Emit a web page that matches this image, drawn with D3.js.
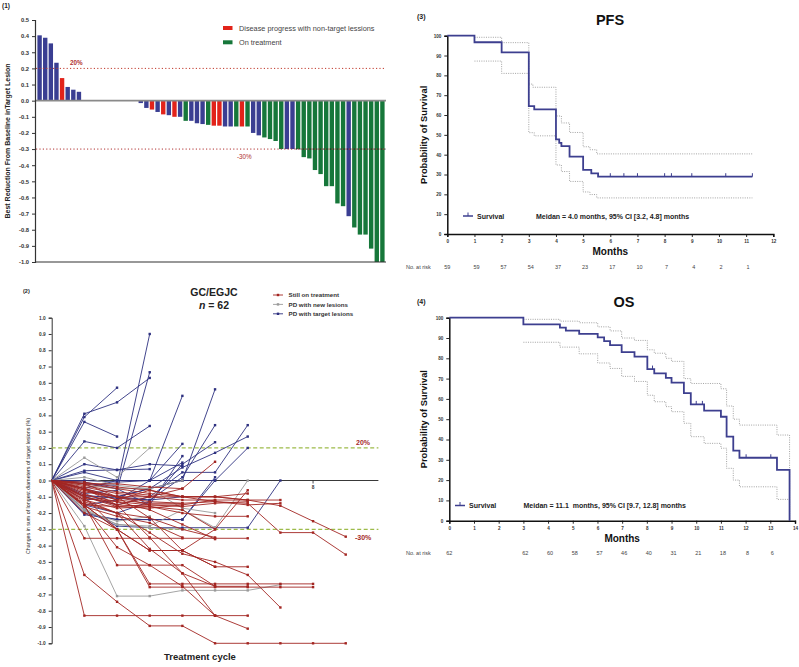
<!DOCTYPE html>
<html>
<head>
<meta charset="utf-8">
<script src="https://cdn.jsdelivr.net/npm/d3@7"></script>
<style>
body { margin: 0; background: #fff; }
svg { font-family: Arial, "Liberation Sans", sans-serif; display: block; }
</style>
</head>
<body>
<svg id="fig" width="799" height="667"></svg>
<script>
// ---------- data: (1) waterfall ----------
var wfValues = [0.405, 0.39, 0.355, 0.235, 0.14, 0.085, 0.068, 0.055,
    0, 0, 0, 0, 0, 0, 0, 0, 0, 0,
    -0.015, -0.045, -0.055, -0.07, -0.085, -0.09, -0.10, -0.10, -0.125, -0.125,
    -0.14, -0.145, -0.15, -0.155, -0.155, -0.16, -0.16, -0.16, -0.16, -0.16,
    -0.20, -0.215, -0.228, -0.238, -0.25, -0.30, -0.30, -0.30, -0.30, -0.35,
    -0.358, -0.43, -0.455, -0.53, -0.53, -0.637, -0.654, -0.716, -0.786, -0.83,
    -0.83, -0.917, -1.0, -1.0];
// T = PD with target lesions, N = progress with non-target lesions, O = on treatment
var wfGroups = ["T", "T", "T", "T", "N", "T", "T", "T",
    "T", "T", "T", "T", "T", "T", "T", "T", "T", "T",
    "T", "T", "N", "T", "N", "T", "N", "T", "O", "T",
    "T", "T", "O", "N", "N", "T", "T", "O", "N", "O",
    "T", "T", "O", "O", "O", "O", "T", "T", "O", "O",
    "O", "O", "O", "O", "O", "O", "O", "T", "O", "O",
    "O", "O", "O", "O"];
var wfTicks = [0.5, 0.4, 0.3, 0.2, 0.1, 0, -0.1, -0.2, -0.3, -0.4, -0.5, -0.6, -0.7, -0.8, -0.9, -1.0];
var wfLegend = ["Disease progress with non-target lessions", "On treatment"];

// ---------- data: (2) spider plot, one array per patient, value per treatment cycle ----------
var spiderTarget = [
    [0, 0.41, 0.48, 0.63],
    [0, 0.39, 0.57],
    [0, 0.36, 0.27],
    [0, 0.24, 0.20, 0.335],
    [0, -0.02, -0.03, 0.90],
    [0, -0.08, -0.06, 0.665],
    [0, 0.10, 0.065, 0.10, 0.09],
    [0, 0.06, 0.065, 0.07],
    [0, 0.05, 0.0, 0.0, 0.52],
    [0, -0.10, -0.10, -0.05, 0.0, 0.56],
    [0, -0.05, -0.10, -0.12, 0.02, 0.34],
    [0, -0.10, -0.15, -0.10, 0.05, 0.05, 0.34],
    [0, -0.15, -0.20, -0.13, 0.10, 0.235],
    [0, -0.12, -0.10, -0.05, 0.08, 0.17, 0.27],
    [0, -0.20, -0.24, -0.24, -0.24, 0.0, 0.20],
    [0, 0.0, -0.01, 0.0, 0.225],
    [0, -0.09, -0.11, -0.12, -0.10],
    [0, -0.18, -0.28, -0.29, -0.29, -0.29, -0.29, 0.0],
    [0, -0.21, -0.24, -0.24, -0.24, 0.02],
    [0, -0.01, -0.05, -0.15, 0.15],
    [0, -0.15, -0.12, 0.0, 0.11],
    [0, -0.05, 0.0, 0.0, 0.0, 0.0]
];
var spiderNew = [
    [0, 0.14, 0.02, 0.20],
    [0, -0.28, -0.71, -0.71, -0.675, -0.675, -0.675, -0.64],
    [0, -0.18, -0.27, -0.28, -0.18, -0.29, 0.0],
    [0, -0.03, -0.05, -0.05, -0.17, -0.20],
    [0, 0.02, -0.03, -0.05, 0.0],
    [0, -0.19, -0.25, -0.22],
    [0, -0.17, -0.27, -0.29, -0.30]
];
var spiderStill = [
    [0, -0.83, -0.83, -0.83, -0.83, -0.83, -0.83],
    [0, -0.58, -0.745, -0.893, -0.893, -1.0, -1.0, -1.0, -1.0, -1.0],
    [0, -0.355, -0.355, -0.355, -0.355, -0.355, -0.355],
    [0, -0.16, -0.41, -0.52, -0.65, -0.83, -0.91],
    [0, -0.15, -0.30, -0.43, -0.43, -0.53, -0.53],
    [0, -0.20, -0.30, -0.635, -0.635, -0.635, -0.635, -0.635, -0.635],
    [0, -0.10, -0.30, -0.655, -0.655, -0.655, -0.655, -0.655, -0.655],
    [0, -0.05, -0.15, -0.35, -0.57, -0.83],
    [0, -0.13, -0.20, -0.32, -0.45, -0.50, -0.58, -0.78],
    [0, -0.02, -0.10, -0.15, -0.15, -0.12, -0.12, -0.155, -0.25, -0.345],
    [0, -0.06, -0.12, -0.14, -0.14, -0.13, -0.14, -0.32, -0.32, -0.455],
    [0, -0.10, -0.15, -0.10, -0.10, -0.10, -0.12, -0.12],
    [0, -0.05, -0.12, -0.06, -0.10, -0.13, -0.15, -0.14],
    [0, -0.15, -0.52, -0.52, -0.52, -0.65],
    [0, -0.15, -0.30, -0.43, -0.43, -0.30, -0.06],
    [0, -0.05, -0.10, -0.10, -0.05, 0.115],
    [0, -0.02, -0.05, -0.08, -0.10, -0.10, -0.12],
    [0, -0.04, -0.08, -0.10, -0.12, -0.12],
    [0, -0.08, -0.15, -0.16, -0.20, -0.22, -0.22],
    [0, -0.10, -0.16, -0.17, -0.15],
    [0, -0.12, -0.17, -0.16, -0.18, -0.30],
    [0, -0.14, -0.20, -0.23, -0.30, -0.35],
    [0, -0.03, -0.07, -0.09],
    [0, -0.06, -0.10, -0.13, -0.14],
    [0, -0.15, -0.16, -0.15],
    [0, -0.16, -0.22, -0.26, -0.35],
    [0, -0.09, -0.13, -0.18, -0.27, -0.36],
    [0, -0.07, -0.10, -0.23, -0.43, -0.53],
    [0, -0.12, -0.20, -0.42, -0.57, -0.65, -0.65],
    [0, -0.01, -0.04, -0.06, -0.10, -0.10, -0.08],
    [0, -0.11, -0.13, -0.15, -0.16, -0.14, -0.13],
    [0, -0.02, -0.02, -0.04, -0.05]
];
var spiderTicks = [1.0, 0.9, 0.8, 0.7, 0.6, 0.5, 0.4, 0.3, 0.2, 0.1, 0, -0.1, -0.2, -0.3, -0.4, -0.5, -0.6, -0.7, -0.8, -0.9, -1.0];
var spiderLegend = ["Still on treatment", "PD with new lesions", "PD with target lesions"];

// ---------- data: (3) PFS ----------
var pfsTime = [0, 1, 2, 3, 3.2, 4, 4.12, 4.2, 4.5, 5, 5.3, 5.55, 11.23];
var pfsSurv = [100, 96.7, 91.6, 64.5, 62.8, 47.7, 46.0, 44.3, 39.0, 32.3, 30.6, 28.9, 28.9];
var pfsCensor = [6, 6.5, 7, 8, 8.25, 9, 10.25, 11.23];
var pfsUpperTime = [1, 2, 3, 3.15, 4, 4.2, 4.5, 5, 5.25, 5.5, 11.23];
var pfsUpper = [99.2, 96.5, 75.6, 74.0, 59.5, 56.0, 51.2, 44.0, 42.5, 40.4, 40.4];
var pfsLowerTime = [1, 2, 3, 3.2, 4, 4.2, 4.5, 5, 5.25, 5.5, 11.23];
var pfsLower = [87.2, 81.0, 51.1, 49.5, 34.8, 31.5, 26.5, 21.2, 19.9, 18.2, 18.2];
var pfsRiskMonth = [0, 1, 2, 3, 4, 5, 6, 7, 8, 9, 10, 11];
var pfsRisk = [59, 59, 57, 54, 37, 23, 17, 10, 7, 4, 2, 1];

// ---------- data: (4) OS ----------
var osTime = [0, 3, 4.48, 4.72, 5.26, 6.01, 6.27, 6.51, 6.98, 7.5, 8.02, 8.3, 8.77, 9.0, 9.5, 9.78, 10.32, 11.0, 11.23, 11.5, 11.75, 13.27, 13.78];
var osSurv = [100, 96.7, 95.1, 93.6, 92.0, 90.3, 88.5, 86.5, 83.0, 80.8, 74.7, 72.6, 70.4, 68.0, 62.8, 57.3, 54.2, 51.2, 41.4, 34.5, 31.0, 25.0, 0];
var osCensor = [8.23, 10.0, 10.25, 12.02, 13.02];
var osUpperTime = [3, 4.48, 5.26, 6.01, 6.51, 6.98, 7.5, 8.02, 8.3, 8.77, 9.0, 9.5, 9.78, 11.0, 11.23, 11.5, 11.75, 13.27, 13.78];
var osUpper = [99.2, 98.3, 97.5, 95.5, 93.5, 90.0, 88.8, 84.2, 82.5, 80.0, 78.5, 70.0, 67.6, 65.0, 56.5, 50.0, 47.1, 42.2, 0];
var osLowerTime = [3, 4.48, 5.26, 6.01, 6.51, 6.98, 7.5, 8.02, 8.3, 8.77, 9.0, 9.5, 9.78, 10.32, 11.0, 11.23, 11.5, 11.75, 13.27, 13.78];
var osLower = [87.9, 85.5, 82.2, 77.7, 75.0, 71.1, 68.6, 61.8, 58.6, 56.2, 53.7, 48.0, 41.4, 38.1, 35.7, 25.8, 20.0, 16.7, 10.5, 0];
var osRiskMonth = [0, 3, 4, 5, 6, 7, 8, 9, 10, 11, 12, 13];
var osRisk = [62, 62, 60, 58, 57, 46, 40, 31, 21, 18, 8, 6];

var svg = d3.select("#fig");
svg.append("rect").attr("width", 799).attr("height", 667).attr("fill", "#fff");

//small helper for plain text
function label(g, x, y, txt, size, opts) {
    opts = opts || {};
    return g.append("text")
        .attr("x", x).attr("y", y)
        .attr("font-size", size)
        .attr("font-weight", opts.bold ? "bold" : "normal")
        .attr("fill", opts.fill || "#222")
        .attr("text-anchor", opts.anchor || "start")
        .style("white-space", "pre")
        .text(txt);
}

//----------------------------------------------------------------
// panel (1) waterfall
//----------------------------------------------------------------
var p1 = svg.append("g");
var wfColor = { T: "#3a3e92", N: "#e2231a", O: "#16773a" };
var wx = d3.scaleBand().domain(d3.range(wfValues.length)).range([36, 386]).paddingInner(0.22).paddingOuter(0.25);
var wy = d3.scaleLinear().domain([-1, 0.5]).range([262, 20]);

label(p1, 2, 8, "(1)", 6.5, { bold: true });

p1.selectAll("rect.bar")
    .data(wfValues)
    .enter().append("rect")
    .attr("class", "bar")
    .attr("x", function(d, i) { return wx(i); })
    .attr("width", wx.bandwidth())
    .attr("y", function(d) { return wy(Math.max(0, d)); })
    .attr("height", function(d) { return Math.abs(wy(d) - wy(0)); })
    .attr("fill", function(d, i) { return wfColor[wfGroups[i]]; });

//zero line and bottom line
p1.append("line").attr("x1", 35).attr("x2", 386).attr("y1", wy(0)).attr("y2", wy(0))
    .attr("stroke", "#8a8a8a").attr("stroke-width", 1.8);
p1.append("line").attr("x1", 35).attr("x2", 386).attr("y1", wy(-1)).attr("y2", wy(-1))
    .attr("stroke", "#333").attr("stroke-width", 1.2);

//reference lines
p1.append("line").attr("x1", 36).attr("x2", 386).attr("y1", wy(0.2)).attr("y2", wy(0.2))
    .attr("stroke", "#c0392b").attr("stroke-width", 1).attr("stroke-dasharray", "1.2,2.2");
p1.append("line").attr("x1", 36).attr("x2", 386).attr("y1", wy(-0.3)).attr("y2", wy(-0.3))
    .attr("stroke", "#b03030").attr("stroke-width", 1).attr("stroke-dasharray", "1.2,2.2");
p1.append("line").attr("x1", wx(46)).attr("x2", 386).attr("y1", wy(-0.3)).attr("y2", wy(-0.3))
    .attr("stroke", "#222").attr("stroke-width", 1).attr("stroke-dasharray", "1.2,2.2");
label(p1, 70, wy(0.2) - 3, "20%", 6.3, { bold: true, fill: "#b03030" });
label(p1, 237, wy(-0.3) + 10, "-30%", 6.3, { fill: "#b03030" });

var wAxis = p1.append("g").attr("transform", "translate(35,0)")
    .call(d3.axisLeft(wy).tickValues(wfTicks).tickSize(3).tickFormat(function(d) { return d.toFixed(1); }));
wAxis.select(".domain").attr("stroke", "#333").attr("stroke-width", 1.2);
wAxis.selectAll(".tick line").attr("stroke", "#333");
wAxis.selectAll(".tick text").attr("font-size", 5.8).attr("font-weight", "bold").attr("fill", "#333")
    .attr("font-family", "Arial, 'Liberation Sans', sans-serif");

p1.append("text").attr("transform", "translate(10,141) rotate(-90)")
    .attr("text-anchor", "middle").attr("font-size", 7).attr("font-weight", "bold").attr("fill", "#222")
    .text("Best Reduction From Baseline inTarget Lesion");

//legend
var wfLegendColor = [wfColor.N, wfColor.O];
wfLegend.forEach(function(t, i) {
    p1.append("rect").attr("x", 223).attr("y", 26 + i * 14.3).attr("width", 9.5).attr("height", 4)
        .attr("fill", wfLegendColor[i]);
    label(p1, 239, 30.5 + i * 14.3, t, 7.3, { fill: "#444" });
});

//----------------------------------------------------------------
// panel (2) spider plot
//----------------------------------------------------------------
var p2 = svg.append("g");
var sx = d3.scaleLinear().domain([0, 10]).range([51.7, 378.4]);
var sy = d3.scaleLinear().domain([-1, 1]).range([643.3, 317.7]);
var spColor = { still: "#a32622", newl: "#9a9a9a", target: "#2e3180" };

label(p2, 23, 293, "(2)", 5.5, { bold: true });
label(p2, 214, 295.5, "GC/EGJC", 10.5, { bold: true, anchor: "middle" });
var nt = p2.append("text").attr("x", 214).attr("y", 308.5).attr("text-anchor", "middle")
    .attr("font-size", 10.5).attr("font-weight", "bold").attr("fill", "#222");
nt.append("tspan").attr("font-style", "italic").text("n");
nt.append("tspan").text(" = 62");

//axes
var sAxis = p2.append("g").attr("transform", "translate(51.7,0)")
    .call(d3.axisLeft(sy).tickValues(spiderTicks).tickSize(3).tickFormat(function(d) { return d.toFixed(1); }));
sAxis.select(".domain").attr("stroke", "#333").attr("stroke-width", 1);
sAxis.selectAll(".tick line").attr("stroke", "#333");
sAxis.selectAll(".tick text").attr("font-size", 4.8).attr("font-weight", "bold").attr("fill", "#333")
    .attr("font-family", "Arial, 'Liberation Sans', sans-serif");
p2.append("line").attr("x1", sx(0)).attr("x2", sx(10)).attr("y1", sy(0)).attr("y2", sy(0))
    .attr("stroke", "#222").attr("stroke-width", 0.9);
p2.append("line").attr("x1", sx(8)).attr("x2", sx(8)).attr("y1", sy(0)).attr("y2", sy(0) + 3)
    .attr("stroke", "#222").attr("stroke-width", 0.8);
label(p2, sx(8), sy(0) + 8, "8", 4.8, { anchor: "middle", bold: true, fill: "#333" });

p2.append("text").attr("transform", "translate(29.5,486) rotate(-90)")
    .attr("text-anchor", "middle").attr("font-size", 5.3).attr("fill", "#222")
    .text("Changes in sum of longest diameters of target lesions (%)");

//dashed threshold lines
[0.2, -0.3].forEach(function(v) {
    p2.append("line").attr("x1", sx(0)).attr("x2", sx(10)).attr("y1", sy(v)).attr("y2", sy(v))
        .attr("stroke", "#9dbb4a").attr("stroke-width", 1.2).attr("stroke-dasharray", "4,2.5");
});
label(p2, 356, sy(0.2) - 3, "20%", 7, { bold: true, fill: "#a52a2a" });
label(p2, 355, sy(-0.3) + 10.5, "-30%", 7, { bold: true, fill: "#a52a2a" });

var spLine = d3.line().x(function(d, i) { return sx(i); }).y(function(d) { return sy(d); });
function drawSpider(rows, col) {
    var grp = p2.append("g");
    rows.forEach(function(r) {
        grp.append("path").attr("d", spLine(r)).attr("fill", "none")
            .attr("stroke", col).attr("stroke-width", 0.9);
        grp.selectAll(null).data(r.slice(1)).enter().append("rect")
            .attr("x", function(d, i) { return sx(i + 1) - 1.2; })
            .attr("y", function(d) { return sy(d) - 1.2; })
            .attr("width", 2.4).attr("height", 2.4).attr("fill", col);
    });
}
drawSpider(spiderTarget, spColor.target);
drawSpider(spiderNew, spColor.newl);
drawSpider(spiderStill, spColor.still);

//legend
var spLegendColor = [spColor.still, spColor.newl, spColor.target];
spiderLegend.forEach(function(t, i) {
    var yy = 295 + i * 9.4;
    p2.append("line").attr("x1", 273).attr("x2", 283).attr("y1", yy).attr("y2", yy)
        .attr("stroke", spLegendColor[i]).attr("stroke-width", 0.9);
    p2.append("rect").attr("x", 276.8).attr("y", yy - 1.2).attr("width", 2.4).attr("height", 2.4)
        .attr("fill", spLegendColor[i]);
    label(p2, 288.5, yy + 2.2, t, 6.2, { bold: true, fill: "#333" });
});

label(p2, 200, 660, "Treatment cycle", 9.5, { bold: true, anchor: "middle" });

//----------------------------------------------------------------
// survival panels (3) and (4)
//----------------------------------------------------------------
function stepValue(times, vals, t) {
    var v = vals[0];
    for (var i = 0; i < times.length; i++) { if (times[i] <= t) v = vals[i]; }
    return v;
}

function survivalPanel(cfg) {
    var g = svg.append("g");
    var x = d3.scaleLinear().domain([0, cfg.maxX]).range(cfg.xRange);
    var y = d3.scaleLinear().domain([0, 100]).range(cfg.yRange);
    var step = d3.line().x(function(d) { return x(d[0]); }).y(function(d) { return y(d[1]); })
        .curve(d3.curveStepAfter);

    label(g, cfg.tagX, cfg.tagY, cfg.tag, 7, { bold: true });
    label(g, cfg.titleX, cfg.titleY, cfg.title, 14.5, { bold: true, anchor: "middle", fill: "#111" });

    //CI bands
    [[cfg.upT, cfg.up], [cfg.loT, cfg.lo]].forEach(function(ci) {
        g.append("path").attr("d", step(d3.zip(ci[0], ci[1]))).attr("fill", "none")
            .attr("stroke", "#8c8c8c").attr("stroke-width", 0.8).attr("stroke-dasharray", "1,1.3");
    });

    //axes
    var ya = g.append("g").attr("transform", "translate(" + cfg.xRange[0] + ",0)")
        .call(d3.axisLeft(y).tickValues(d3.range(0, 101, 10)).tickSize(3));
    var xa = g.append("g").attr("transform", "translate(0," + cfg.yRange[0] + ")")
        .call(d3.axisBottom(x).tickValues(d3.range(0, cfg.maxX + 1)).tickSize(3));
    [ya, xa].forEach(function(a) {
        a.select(".domain").attr("stroke", "#111").attr("stroke-width", 1.5);
        a.selectAll(".tick line").attr("stroke", "#111").attr("stroke-width", 0.9);
        a.selectAll(".tick text").attr("font-size", 4.6).attr("font-weight", "bold").attr("fill", "#333")
            .attr("font-family", "Arial, 'Liberation Sans', sans-serif");
    });

    //survival curve
    g.append("path").attr("d", step(d3.zip(cfg.time, cfg.surv))).attr("fill", "none")
        .attr("stroke", "#3d3f8f").attr("stroke-width", 1.8);
    g.selectAll(null).data(cfg.censor).enter().append("line")
        .attr("x1", function(d) { return x(d); }).attr("x2", function(d) { return x(d); })
        .attr("y1", function(d) { return y(stepValue(cfg.time, cfg.surv, d)); })
        .attr("y2", function(d) { return y(stepValue(cfg.time, cfg.surv, d)) - 3.5; })
        .attr("stroke", "#3d3f8f").attr("stroke-width", 1);

    g.append("text").attr("transform", "translate(" + cfg.ytX + "," + ((cfg.yRange[0] + cfg.yRange[1]) / 2) + ") rotate(-90)")
        .attr("text-anchor", "middle").attr("font-size", 9.3).attr("font-weight", "bold").attr("fill", "#111")
        .text("Probability of Survival");
    label(g, (cfg.xRange[0] + cfg.xRange[1]) / 2 + cfg.mShift, cfg.yRange[0] + cfg.mDy, "Months", 10, { bold: true, anchor: "middle", fill: "#111" });

    //legend
    var ly = cfg.legY;
    g.append("line").attr("x1", cfg.legX).attr("x2", cfg.legX + 10).attr("y1", ly).attr("y2", ly)
        .attr("stroke", "#3d3f8f").attr("stroke-width", 1.5);
    g.append("line").attr("x1", cfg.legX + 5).attr("x2", cfg.legX + 5).attr("y1", ly).attr("y2", ly - 3.5)
        .attr("stroke", "#3d3f8f").attr("stroke-width", 1);
    label(g, cfg.legX + 14, ly + 2.5, "Survival", 7, { bold: true });
    label(g, cfg.medX, ly + 2.5, cfg.median, 7, { bold: true });

    //number at risk
    var ry = cfg.riskY;
    label(g, 406, ry, "No. at risk", 5.5, { fill: "#444" });
    g.selectAll(null).data(cfg.riskVal).enter().append("text")
        .attr("x", function(d, i) { return x(cfg.riskMonth[i]) + (i === 0 ? 0 : 2); })
        .attr("y", ry).attr("font-size", 5.5).attr("fill", "#444").attr("text-anchor", "middle")
        .text(function(d) { return d; });
}

survivalPanel({
    maxX: 12, xRange: [447.3, 773.3], yRange: [234, 35.7],
    tag: "(3)", tagX: 417, tagY: 19, title: "PFS", titleX: 610, titleY: 25,
    time: pfsTime, surv: pfsSurv, censor: pfsCensor,
    upT: pfsUpperTime, up: pfsUpper, loT: pfsLowerTime, lo: pfsLower,
    ytX: 427, mShift: 0, mDy: 21,
    legX: 463, legY: 216, medX: 536, median: "Meidan = 4.0 months, 95% CI [3.2, 4.8] months",
    riskY: 268.5, riskMonth: pfsRiskMonth, riskVal: pfsRisk
});

survivalPanel({
    maxX: 14, xRange: [449.3, 795], yRange: [520.7, 317.7],
    tag: "(4)", tagX: 417, tagY: 304, title: "OS", titleX: 624, titleY: 307,
    time: osTime, surv: osSurv, censor: osCensor,
    upT: osUpperTime, up: osUpper, loT: osLowerTime, lo: osLower,
    ytX: 427, mShift: 0, mDy: 21.5,
    legX: 455, legY: 505.5, medX: 523.5, median: "Meidan = 11.1  months, 95% CI [9.7, 12.8] months",
    riskY: 555, riskMonth: osRiskMonth, riskVal: osRisk
});
</script>
</body>
</html>
